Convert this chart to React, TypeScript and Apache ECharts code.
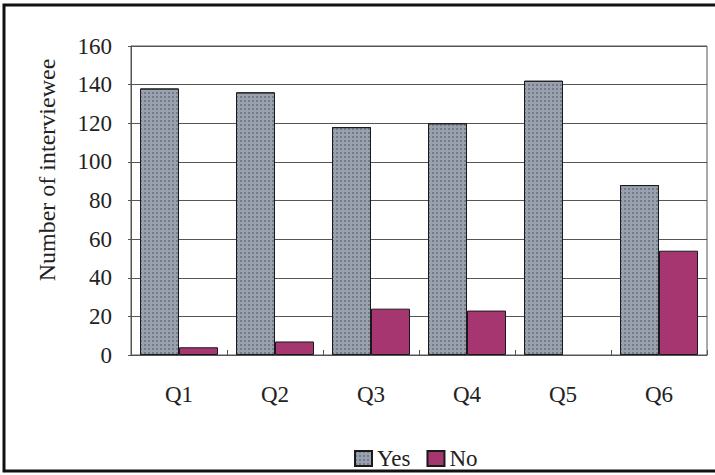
import React, { useEffect, useRef } from "react";
import * as echarts from "echarts";

// Survey answers per question
const questions = ["Q1", "Q2", "Q3", "Q4", "Q5", "Q6"];
const yesCounts = [138, 136, 118, 120, 142, 88];
const noCounts = [4, 7, 24, 23, 0, 54];
const yTicks = [0, 20, 40, 60, 80, 100, 120, 140, 160];

const FONT = "Liberation Serif";

// zero-height bars get no outline so nothing is drawn for them
const asBarData = (values: number[]) =>
  values.map((v) => (v === 0 ? { value: v, itemStyle: { borderWidth: 0 } } : v));

export default function App() {
  const ref = useRef<HTMLDivElement>(null);

  useEffect(() => {
    document.body.style.margin = "0";
    if (!ref.current) return;
    const chart = echarts.init(ref.current, undefined, { renderer: "svg" });

    chart.setOption({
      animation: false,
      backgroundColor: "#ffffff",
      textStyle: { fontFamily: FONT },
      grid: {
        left: 131,
        right: 8,
        top: 46,
        bottom: 120,
        show: true,
        borderColor: "#555555",
        borderWidth: 1,
        backgroundColor: "transparent",
      },
      graphic: [
        {
          type: "rect",
          shape: { x: 4, y: 5, width: 730, height: 466 },
          style: { fill: "none", stroke: "#111111", lineWidth: 3 },
          silent: true,
        },
        {
          type: "text",
          x: 47,
          y: 170,
          rotation: Math.PI / 2,
          style: {
            text: "Number of interviewee",
            fontFamily: FONT,
            fontSize: 24,
            fill: "#222222",
            align: "center",
            verticalAlign: "middle",
          },
        },
      ],
      legend: {
        data: ["Yes", "No"],
        left: 349,
        top: 442,
        itemWidth: 17,
        itemHeight: 15,
        itemGap: 16,
        textStyle: { fontFamily: FONT, fontSize: 23, color: "#222222" },
        icon: "rect",
      },
      xAxis: {
        type: "category",
        data: questions,
        axisLine: { lineStyle: { color: "#555555", width: 1 } },
        axisTick: { show: true, inside: true, length: 5, lineStyle: { color: "#555555" } },
        axisLabel: { fontFamily: FONT, fontSize: 23, color: "#222222", margin: 28 },
      },
      yAxis: {
        type: "value",
        min: yTicks[0],
        max: yTicks[yTicks.length - 1],
        interval: 20,
        axisLine: { show: true, lineStyle: { color: "#555555", width: 1 } },
        axisTick: { show: true, length: 3, lineStyle: { color: "#555555" } },
        axisLabel: { fontFamily: FONT, fontSize: 23, color: "#222222", margin: 19 },
        splitLine: { show: true, lineStyle: { color: "#555555", width: 1 } },
      },
      series: [
        {
          name: "Yes",
          type: "bar",
          data: asBarData(yesCounts),
          barWidth: 39,
          barGap: "0%",
          itemStyle: {
            color: "#9aa1ad",
            borderColor: "#1a1a1a",
            borderWidth: 1,
            decal: {
              symbol: "rect",
              symbolSize: 1,
              color: "rgba(80,90,110,0.55)",
              dashArrayX: [2, 2],
              dashArrayY: [2, 2],
            },
          },
        },
        {
          name: "No",
          type: "bar",
          data: asBarData(noCounts),
          barWidth: 39,
          barGap: "0%",
          itemStyle: {
            color: "#a5366f",
            borderColor: "#1a1a1a",
            borderWidth: 1,
          },
        },
      ],
    });

    return () => chart.dispose();
  }, []);

  return <div ref={ref} style={{ width: 715, height: 475 }} />;
}
